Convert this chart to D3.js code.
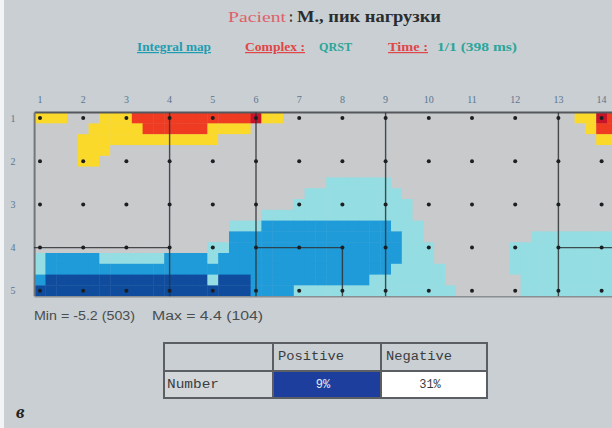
<!DOCTYPE html>
<html><head><meta charset="utf-8">
<script src="https://cdn.jsdelivr.net/npm/d3@7"></script>
<style>
html,body{margin:0;padding:0;background:#c9cfd2;}
svg{display:block;}
</style></head>
<body>
<script>
// ---------- DATA ----------
const colLabels = ["1","2","3","4","5","6","7","8","9","10","11","12","13","14"];
const rowLabels = ["1","2","3","4","5"];
// integral map levels per interpolated sub-cell (4 sub-cells per electrode step)
// B = strong negative, b = negative, c = weak negative, . = ~0, y = weak positive, r = positive, R = max positive
const mapRows = [
  "yyy...yyyrrrrrrrrrrrRyy...........................yyRr",
  ".....yyyyyrrrrrryyyy...............................yrr",
  "....yyyyyyyyyyyyy...................................yy",
  "....yyy...............................................",
  "....yy................................................",
  "......................................................",
  "...........................cccccc.....................",
  ".........................ccccccccc....................",
  "........................ccccccccccc...................",
  ".....................cccccccccccccc...................",
  "..................cccbbbbbbbbbbbbccc..................",
  "..................bbbbbbbbbbbbbbbbcc..........cccccccc",
  "................ccbbbbbbbbbbbbbbbbccc.......cccccccccc",
  "cbbbbbccccccbbbbcbbbbbbbbbbbbbbbbbccc.......cccccccccc",
  "cbbbbbbbbbbbbbbbbbbbbbbbbbbbbbbbbccccc......cccccccccc",
  "bBBBBBBBBBBBBBBBcBBBbbbbbbbbbbbccccccc.......ccccccccc",
  "BBBBBBBBBBBBBBBBBBBBbbbbccccccccccccccc......ccccccccc"
];
const levelCodes  = ["B","b","c",".","y","r","R"];
const levelColors = ["#0f4c9e","#1e9bd8","#94dde2","#c8cacc","#fbd92a","#ee3b22","#c8142a"];
// electrode-region boundary segments, in electrode coordinates [col,row]
const segments = [
  [[4,1],[4,5]], [[6,1],[6,5]], [[9,1],[9,5]], [[13,1],[13,5]],
  [[0.86,4],[4,4]], [[6,4],[8,4]], [[8,4],[8,5]], [[13,4],[14.3,4]]
];
const titleParts = [
  {t:"Pacient", c:"#e0606a", w:58, x:228, s:15, b:false},
  {t:":", c:"#333", w:4, x:289, s:16, b:true},
  {t:"M., пик нагрузки", c:"#2a2d30", w:144, x:297, s:17, b:true}
];
const subtitleParts = [
  {t:"Integral map", c:"#1f9db0", u:true, x:137, w:74},
  {t:"Complex :", c:"#e04646", u:true, x:245, w:60},
  {t:"QRST", c:"#2aa69a", u:false, x:319, w:33},
  {t:"Time :", c:"#e04646", u:true, x:388, w:40},
  {t:"1/1 (398 ms)", c:"#2aa69a", u:false, x:437, w:80}
];
const statTexts = [
  {t:"Min = -5.2 (503)", x:34, w:101},
  {t:"Max = 4.4 (104)", x:152, w:111}
];
const tableHeader = ["", "Positive", "Negative"];
const tableRow = ["Number", "9%", "31%"];
const figLetter = "в";

// ---------- DRAW ----------
const W = 612, H = 428;
const svg = d3.select("body").append("svg").attr("width", W).attr("height", H);
svg.append("rect").attr("width", W).attr("height", H).attr("fill", "#c9cfd2");
svg.append("rect").attr("width", 4).attr("height", H).attr("fill", "#f2f4f5");

const x = d3.scaleLinear().domain([1, 14]).range([40, 601.6]);
const y = d3.scaleLinear().domain([1, 5]).range([118, 290.8]);
const sub = 4;
const cw = (x(2) - x(1)) / sub, ch = (y(2) - y(1)) / sub;
const color = d3.scaleOrdinal().domain(levelCodes).range(levelColors);

svg.append("clipPath").attr("id","pc").append("rect")
  .attr("x", x(1) - cw/2).attr("y", y(1) - ch/2)
  .attr("width", W - (x(1) - cw/2)).attr("height", y(5) - y(1) + ch);

const map = svg.append("g").attr("clip-path","url(#pc)");
const cells = [];
mapRows.forEach((row, j) => {
  row.split("").forEach((code, i) => cells.push({i, j, code}));
});
map.selectAll("rect.cell").data(cells).join("rect")
  .attr("class","cell")
  .attr("x", d => x(1 + d.i / sub) - cw/2)
  .attr("y", d => y(1 + d.j / sub) - ch/2)
  .attr("width", cw + 0.4).attr("height", ch + 0.4)
  .attr("fill", d => color(d.code));

// frame
const fx0 = x(1) - cw/2, fy0 = y(1) - ch/2, fy1 = y(5) + ch/2;
svg.append("line").attr("x1", fx0).attr("x2", W).attr("y1", fy0).attr("y2", fy0)
  .attr("stroke","#54585c").attr("stroke-width",2);
svg.append("line").attr("x1", fx0).attr("x2", fx0).attr("y1", fy0).attr("y2", fy1)
  .attr("stroke","#72767a").attr("stroke-width",2);
svg.append("line").attr("x1", fx0).attr("x2", W).attr("y1", fy1+0.5).attr("y2", fy1+0.5)
  .attr("stroke","#8a8e92").attr("stroke-width",1.5);

// boundary segments
svg.append("g").selectAll("line").data(segments).join("line")
  .attr("x1", d => x(d[0][0])).attr("y1", d => d[0][1] === 1 ? fy0 : y(d[0][1]))
  .attr("x2", d => x(d[1][0])).attr("y2", d => d[1][1] === 5 ? fy1 : y(d[1][1]))
  .attr("stroke","#2f3336").attr("stroke-width",1.4).attr("opacity",0.85);

// electrode dots
const dots = [];
colLabels.forEach((c, ci) => rowLabels.forEach((r, ri) => dots.push({c: ci + 1, r: ri + 1})));
svg.append("g").selectAll("circle").data(dots).join("circle")
  .attr("cx", d => x(d.c)).attr("cy", d => y(d.r)).attr("r", 2)
  .attr("fill","#1c1f22");

// axis labels
svg.append("g").selectAll("text").data(colLabels).join("text")
  .attr("x", (d, i) => x(i + 1)).attr("y", 103)
  .attr("text-anchor","middle")
  .attr("font-family","Liberation Serif, serif").attr("font-size",10)
  .attr("fill","#5c7590").text(d => d);
svg.append("g").selectAll("text").data(rowLabels).join("text")
  .attr("x", 13).attr("y", (d, i) => y(i + 1) + 3.5)
  .attr("text-anchor","middle")
  .attr("font-family","Liberation Serif, serif").attr("font-size",10)
  .attr("fill","#5c7590").text(d => d);

// title
svg.append("g").selectAll("text").data(titleParts).join("text")
  .attr("x", d => d.x).attr("y", 22)
  .attr("font-family","Liberation Serif, serif")
  .attr("font-size", d => d.s).attr("font-weight", d => d.b ? "bold" : "normal")
  .attr("fill", d => d.c)
  .attr("textLength", d => d.w).attr("lengthAdjust","spacingAndGlyphs")
  .text(d => d.t);

// subtitle
svg.append("g").selectAll("text").data(subtitleParts).join("text")
  .attr("x", d => d.x).attr("y", 51)
  .attr("font-family","Liberation Serif, serif").attr("font-size",12).attr("font-weight","bold")
  .attr("fill", d => d.c)
  .attr("text-decoration", d => d.u ? "underline" : null)
  .attr("textLength", d => d.w).attr("lengthAdjust","spacingAndGlyphs")
  .text(d => d.t);

// min / max
svg.append("g").selectAll("text").data(statTexts).join("text")
  .attr("x", d => d.x).attr("y", 320)
  .attr("font-family","Liberation Sans, sans-serif").attr("font-size",12).attr("fill","#4a4d50")
  .attr("textLength", d => d.w).attr("lengthAdjust","spacingAndGlyphs")
  .text(d => d.t);

// table
const tx = [164, 273, 381, 487], ty = [343, 371, 398];
const tb = svg.append("g");
tb.append("rect").attr("x", tx[1]).attr("y", ty[1]).attr("width", tx[2]-tx[1]).attr("height", ty[2]-ty[1]).attr("fill","#1d3e9c");
tb.append("rect").attr("x", tx[2]).attr("y", ty[1]).attr("width", tx[3]-tx[2]).attr("height", ty[2]-ty[1]).attr("fill","#ffffff");
tb.append("rect").attr("x", tx[0]).attr("y", ty[1]).attr("width", tx[1]-tx[0]).attr("height", ty[2]-ty[1]).attr("fill","#d3d6d8");
tb.append("rect").attr("x", tx[0]).attr("y", ty[0]).attr("width", tx[3]-tx[0]).attr("height", ty[2]-ty[0])
  .attr("fill","none").attr("stroke","#5b5f63").attr("stroke-width",2);
tb.append("line").attr("x1", tx[0]).attr("x2", tx[3]).attr("y1", ty[1]).attr("y2", ty[1]).attr("stroke","#5b5f63").attr("stroke-width",2);
[tx[1], tx[2]].forEach(v => tb.append("line").attr("x1", v).attr("x2", v).attr("y1", ty[0]).attr("y2", ty[2]).attr("stroke","#5b5f63").attr("stroke-width",2));
tableHeader.forEach((t, k) => {
  if (!t) return;
  tb.append("text").attr("x", tx[k] + 5).attr("y", 360)
    .attr("font-family","Liberation Mono, monospace").attr("font-size",12).attr("fill","#3a3d40")
    .attr("textLength", 66).attr("lengthAdjust","spacingAndGlyphs").text(t);
});
tableRow.forEach((t, k) => {
  const el = tb.append("text").attr("y", 388)
    .attr("font-family","Liberation Mono, monospace").attr("font-size",12)
    .attr("fill", k === 1 ? "#e8ecf5" : "#3a3d40").text(t);
  if (k === 0) el.attr("x", tx[0] + 3).attr("textLength", 52).attr("lengthAdjust","spacingAndGlyphs");
  else el.attr("x", (tx[k] + tx[k+1]) / 2 - 4).attr("text-anchor","middle");
});

// figure letter
svg.append("text").attr("x", 16).attr("y", 418)
  .attr("font-family","Liberation Serif, serif").attr("font-style","italic").attr("font-weight","bold")
  .attr("font-size",19).attr("fill","#222").text(figLetter);
</script>
</body></html>
